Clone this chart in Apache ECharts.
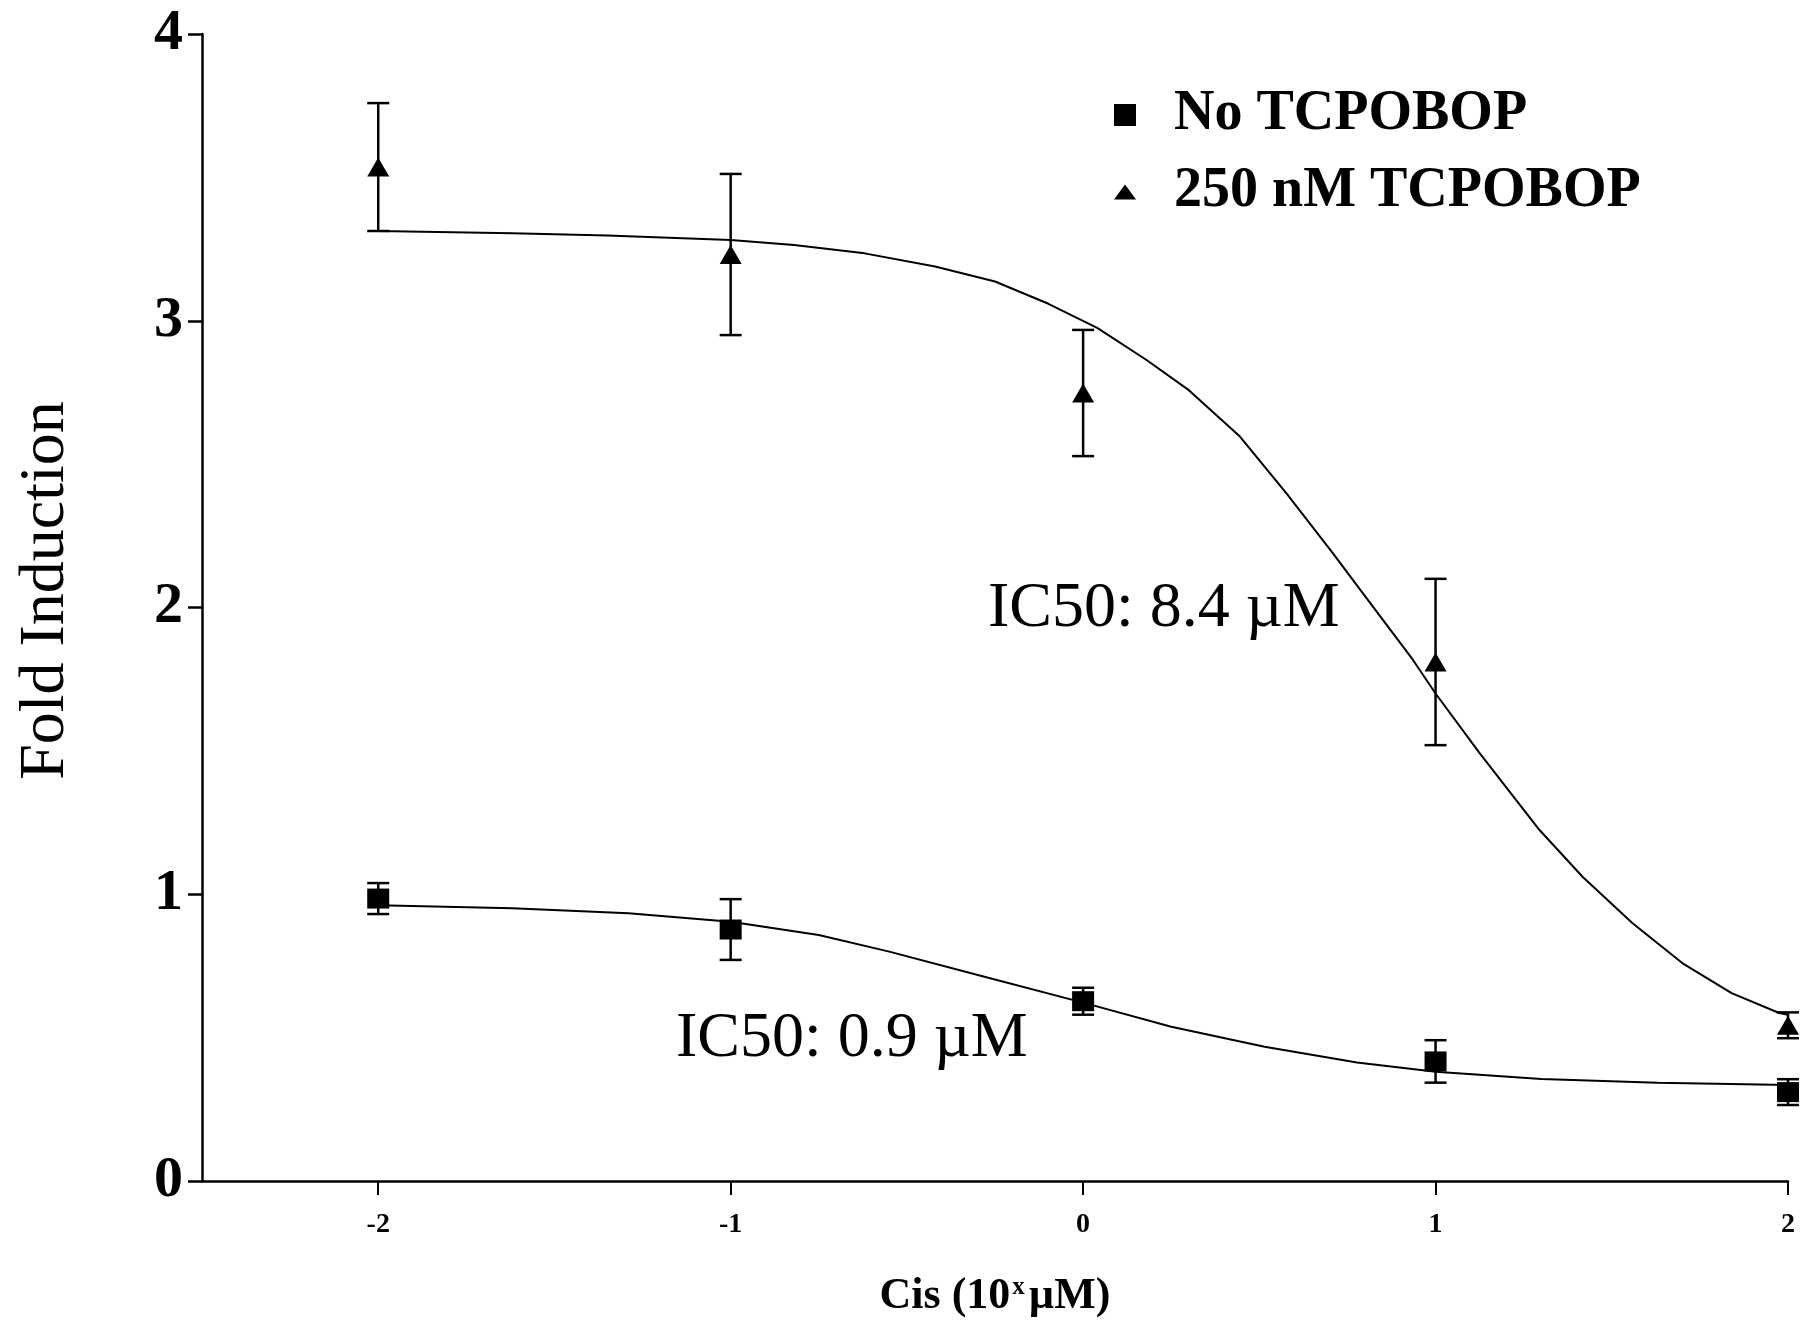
<!DOCTYPE html>
<html>
<head>
<meta charset="utf-8">
<title>Fold Induction</title>
<script src="https://cdn.jsdelivr.net/npm/echarts@6/dist/echarts.min.js"></script>
<style>
  html, body { margin: 0; padding: 0; background: #fff; }
  #chart { width: 1805px; height: 1324px; }
</style>
</head>
<body>
<div id="chart"></div>
<script>
// doses, log10 of µM
const doses = [-2, -1, 0, 1, 2]

// No TCPOBOP: mean and error
const noTcpMean = [0.985, 0.877, 0.627, 0.417, 0.31]
const noTcpErr = [0.054, 0.106, 0.047, 0.074, 0.045]

// 250 nM TCPOBOP: mean and error
const tcpMean = [3.536, 3.231, 2.748, 1.81, 0.543]
const tcpErr = [0.223, 0.281, 0.22, 0.29, 0.045]

// fitted curves
const fitNoX = [-2, -1.62, -1.29, -1, -0.75, -0.55, -0.28, 0, 0.25, 0.515, 0.777, 1, 1.3, 1.63, 2]
const fitNoY = [0.962, 0.951, 0.934, 0.904, 0.858, 0.8, 0.712, 0.622, 0.538, 0.468, 0.413, 0.381, 0.356, 0.343, 0.335]

const fitTcpX = [-2, -1.62, -1.35, -1, -0.82, -0.62, -0.42, -0.25, -0.1, 0.04, 0.18, 0.3, 0.445, 0.577, 0.709, 0.794, 0.936, 1, 1.125, 1.295, 1.417, 1.559, 1.7, 1.84, 1.975, 2]
const fitTcpY = [3.313, 3.305, 3.297, 3.282, 3.264, 3.235, 3.189, 3.137, 3.06, 2.975, 2.863, 2.758, 2.596, 2.398, 2.189, 2.049, 1.817, 1.70, 1.492, 1.224, 1.061, 0.899, 0.76, 0.655, 0.586, 0.58]

const xTicks = [-2, -1, 0, 1, 2]

const serif = '"Liberation Serif", "Times New Roman", serif'

const chart = echarts.init(document.getElementById('chart'))

function errorBars(mean, err) {
  return {
    type: 'custom',
    z: 2,
    silent: true,
    data: doses.map((d, i) => [d, mean[i] - err[i], mean[i] + err[i]]),
    renderItem: function(params, api) {
      const lo = api.coord([api.value(0), api.value(1)])
      const hi = api.coord([api.value(0), api.value(2)])
      const half = 11
      const style = { stroke: '#000', lineWidth: 2.5 }
      return {
        type: 'group',
        children: [
          { type: 'line', shape: { x1: lo[0], y1: lo[1], x2: hi[0], y2: hi[1] }, style: style },
          { type: 'line', shape: { x1: lo[0] - half, y1: lo[1], x2: lo[0] + half, y2: lo[1] }, style: style },
          { type: 'line', shape: { x1: hi[0] - half, y1: hi[1], x2: hi[0] + half, y2: hi[1] }, style: style }
        ]
      }
    }
  }
}

function fitLine(xs, ys) {
  return {
    type: 'line',
    smooth: false,
    symbol: 'none',
    silent: true,
    z: 1,
    lineStyle: { color: '#000', width: 2 },
    data: xs.map((x, i) => [x, ys[i]])
  }
}

chart.setOption({
  animation: false,
  backgroundColor: '#fff',
  grid: {
    left: 202,
    right: 17,
    top: 34,
    bottom: 143
  },
  legend: {
    orient: 'vertical',
    left: 1114,
    top: 87,
    padding: 0,
    itemWidth: 22,
    itemHeight: 22,
    itemGap: 21,
    selectedMode: false,
    itemStyle: { color: '#000', opacity: 1 },
    textStyle: {
      fontFamily: serif,
      fontWeight: 'bold',
      fontSize: 56,
      lineHeight: 56,
      color: '#000',
      padding: [0, 0, 0, 33]
    },
    data: [
      { name: 'No TCPOBOP', icon: 'rect' },
      { name: '250 nM TCPOBOP', icon: 'path://M0,15 L11,0 L22,15 Z' }
    ]
  },
  xAxis: {
    type: 'value',
    min: -2.5,
    max: 2,
    name: '{b|Cis (10}{sup|x}{b|µM)}',
    nameLocation: 'middle',
    nameGap: 94,
    nameTextStyle: {
      rich: {
        b: { fontFamily: serif, fontWeight: 'bold', fontSize: 44, color: '#000' },
        sup: { fontFamily: serif, fontWeight: 'bold', fontSize: 25, color: '#000', verticalAlign: 'top', padding: [0, 4, 0, 2] }
      }
    },
    splitLine: { show: false },
    axisLine: { show: true, onZero: false, lineStyle: { color: '#000', width: 2.5 } },
    axisTick: { show: true, length: 14, customValues: xTicks, lineStyle: { color: '#000', width: 2 } },
    axisLabel: {
      customValues: xTicks,
      margin: 30,
      fontFamily: serif,
      fontWeight: 'bold',
      fontSize: 28,
      color: '#000'
    }
  },
  yAxis: {
    type: 'value',
    min: 0,
    max: 4,
    interval: 1,
    name: 'Fold Induction',
    nameLocation: 'middle',
    nameGap: 124,
    nameTextStyle: { fontFamily: serif, fontSize: 64, color: '#000', padding: [0, 0, 0, 34] },
    splitLine: { show: false },
    axisLine: { show: true, onZero: false, lineStyle: { color: '#000', width: 2.5 } },
    axisTick: { show: true, length: 14, lineStyle: { color: '#000', width: 2.5 } },
    axisLabel: {
      margin: 19,
      fontFamily: serif,
      fontWeight: 'bold',
      fontSize: 58,
      color: '#000'
    }
  },
  graphic: [
    {
      type: 'text',
      x: 988,
      y: 609,
      style: { text: 'IC50: 8.4 µM', font: '64px "Liberation Serif"', fill: '#000', align: 'left', verticalAlign: 'middle' }
    },
    {
      type: 'text',
      x: 676,
      y: 1039,
      style: { text: 'IC50: 0.9 µM', font: '64px "Liberation Serif"', fill: '#000', align: 'left', verticalAlign: 'middle' }
    }
  ],
  series: [
    fitLine(fitNoX, fitNoY),
    fitLine(fitTcpX, fitTcpY),
    errorBars(noTcpMean, noTcpErr),
    errorBars(tcpMean, tcpErr),
    {
      name: 'No TCPOBOP',
      type: 'scatter',
      symbol: 'rect',
      symbolSize: [22, 20],
      z: 3,
      itemStyle: { color: '#000', opacity: 1 },
      data: doses.map((d, i) => [d, noTcpMean[i]])
    },
    {
      name: '250 nM TCPOBOP',
      type: 'scatter',
      symbol: 'triangle',
      symbolSize: [22, 19],
      z: 3,
      itemStyle: { color: '#000', opacity: 1 },
      data: doses.map((d, i) => [d, tcpMean[i]])
    }
  ]
})
</script>
</body>
</html>
